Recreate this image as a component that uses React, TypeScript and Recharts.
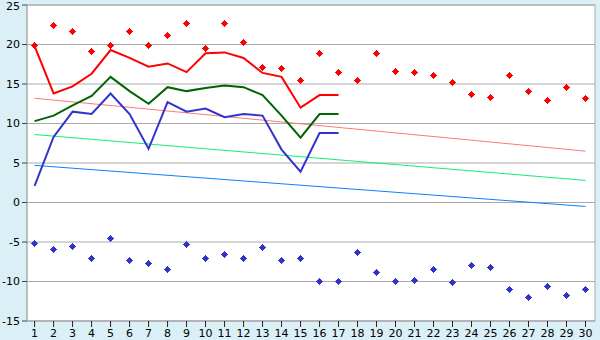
import React from "react";
import { ComposedChart, Line, Scatter, XAxis, YAxis, CartesianGrid, ReferenceArea } from "recharts";

// days of the month
const days = [1, 2, 3, 4, 5, 6, 7, 8, 9, 10, 11, 12, 13, 14, 15, 16, 17, 18, 19, 20, 21, 22, 23, 24, 25, 26, 27, 28, 29, 30];

// observed values (first 17 days)
const highs = [19.8, 13.8, 14.7, 16.3, 19.3, 18.3, 17.2, 17.6, 16.5, 18.9, 19.0, 18.3, 16.4, 15.9, 12.0, 13.6, 13.6];
const means = [10.3, 11.0, 12.3, 13.5, 15.9, 14.1, 12.5, 14.6, 14.1, 14.5, 14.8, 14.6, 13.6, 11.0, 8.2, 11.2, 11.2];
const lows = [2.1, 8.3, 11.5, 11.2, 13.8, 11.2, 6.8, 12.7, 11.5, 11.9, 10.8, 11.2, 11.0, 6.7, 3.9, 8.8, 8.8];

// record values
const recordHighs = [19.9, 22.4, 21.7, 19.1, 19.9, 21.7, 19.9, 21.1, 22.6, 19.5, 22.7, 20.2, 17.1, 16.9, 15.5, 18.8, 16.5, 15.5, 18.8, 16.6, 16.5, 16.1, 15.2, 13.7, 13.3, 16.1, 14.0, 12.9, 14.5, 13.2];
const recordLows = [-5.2, -6.0, -5.6, -7.1, -4.5, -7.4, -7.7, -8.5, -5.3, -7.1, -6.6, -7.1, -5.7, -7.4, -7.1, -10.0, -10.0, -6.3, -8.8, -10.0, -9.9, -8.5, -10.1, -8.0, -8.2, -11.0, -12.0, -10.6, -11.8, -11.0];

// normals: value on the first and last day
const normalDays = [1, 30];
const normalHigh = [13.2, 6.5];
const normalMean = [8.6, 2.8];
const normalLow = [4.7, -0.5];

const yTicks = [-15, -10, -5, 0, 5, 10, 15, 20, 25];

const rows = days.map((d, i) => {
  const n = normalDays.indexOf(d);
  return {
    day: d,
    high: highs[i],
    mean: means[i],
    low: lows[i],
    recHigh: recordHighs[i],
    recLow: recordLows[i],
    nHigh: n >= 0 ? normalHigh[n] : undefined,
    nMean: n >= 0 ? normalMean[n] : undefined,
    nLow: n >= 0 ? normalLow[n] : undefined,
  };
});

// small plus-shaped marker like the original
const marker = (color: string) => (props: any) => {
  const { cx, cy } = props;
  if (cx == null || cy == null) return <g />;
  const x = Math.floor(cx);
  const y = Math.floor(cy);
  return (
    <g fill={color} shapeRendering="crispEdges">
      <rect x={x - 1} y={y - 2} width={3} height={5} />
      <rect x={x - 2} y={y - 1} width={5} height={3} />
      <rect x={x} y={y - 3} width={1} height={7} />
      <rect x={x - 3} y={y} width={7} height={1} />
    </g>
  );
};

const tickFont = { fontFamily: "DejaVu Sans", fontSize: 11, fill: "#000" };

export default function App() {
  return (
    <div style={{ position: "absolute", left: 0, top: 0, width: 600, height: 340, background: "#daeff6" }}>
      <ComposedChart width={600} height={340} data={rows} margin={{ top: 5, right: 5, left: 0, bottom: 0 }}>
        <CartesianGrid vertical={false} stroke="#aaaaaa" fill="#ffffff" />
        <XAxis
          dataKey="day"
          type="number"
          domain={[0.6, 30.5]}
          ticks={days}
          interval={0}
          height={19}
          tickSize={6}
          tickMargin={2}
          stroke="#aaaaaa"
          tickLine={{ stroke: "#222" }}
          tick={tickFont}
        />
        <YAxis
          type="number"
          domain={[-15, 25]}
          ticks={yTicks}
          width={27}
          tickSize={5}
          tickMargin={2}
          stroke="#aaaaaa"
          tickLine={{ stroke: "#444" }}
          tick={tickFont}
        />
        <ReferenceArea x1={0.6} x2={30.5} y1={-15} y2={25} fill="none" stroke="#aaaaaa" />
        <Line dataKey="nHigh" stroke="#ff7777" strokeWidth={1} dot={false} connectNulls isAnimationActive={false} />
        <Line dataKey="nMean" stroke="#11ee77" strokeWidth={1} dot={false} connectNulls isAnimationActive={false} />
        <Line dataKey="nLow" stroke="#0a80ff" strokeWidth={1} dot={false} connectNulls isAnimationActive={false} />
        <Line dataKey="high" stroke="#ff0000" strokeWidth={2} dot={false} isAnimationActive={false} />
        <Line dataKey="mean" stroke="#006400" strokeWidth={2} dot={false} isAnimationActive={false} />
        <Line dataKey="low" stroke="#3333cc" strokeWidth={2} dot={false} isAnimationActive={false} />
        <Scatter dataKey="recHigh" shape={marker("#ff0000")} isAnimationActive={false} />
        <Scatter dataKey="recLow" shape={marker("#3333cc")} isAnimationActive={false} />
      </ComposedChart>
    </div>
  );
}
